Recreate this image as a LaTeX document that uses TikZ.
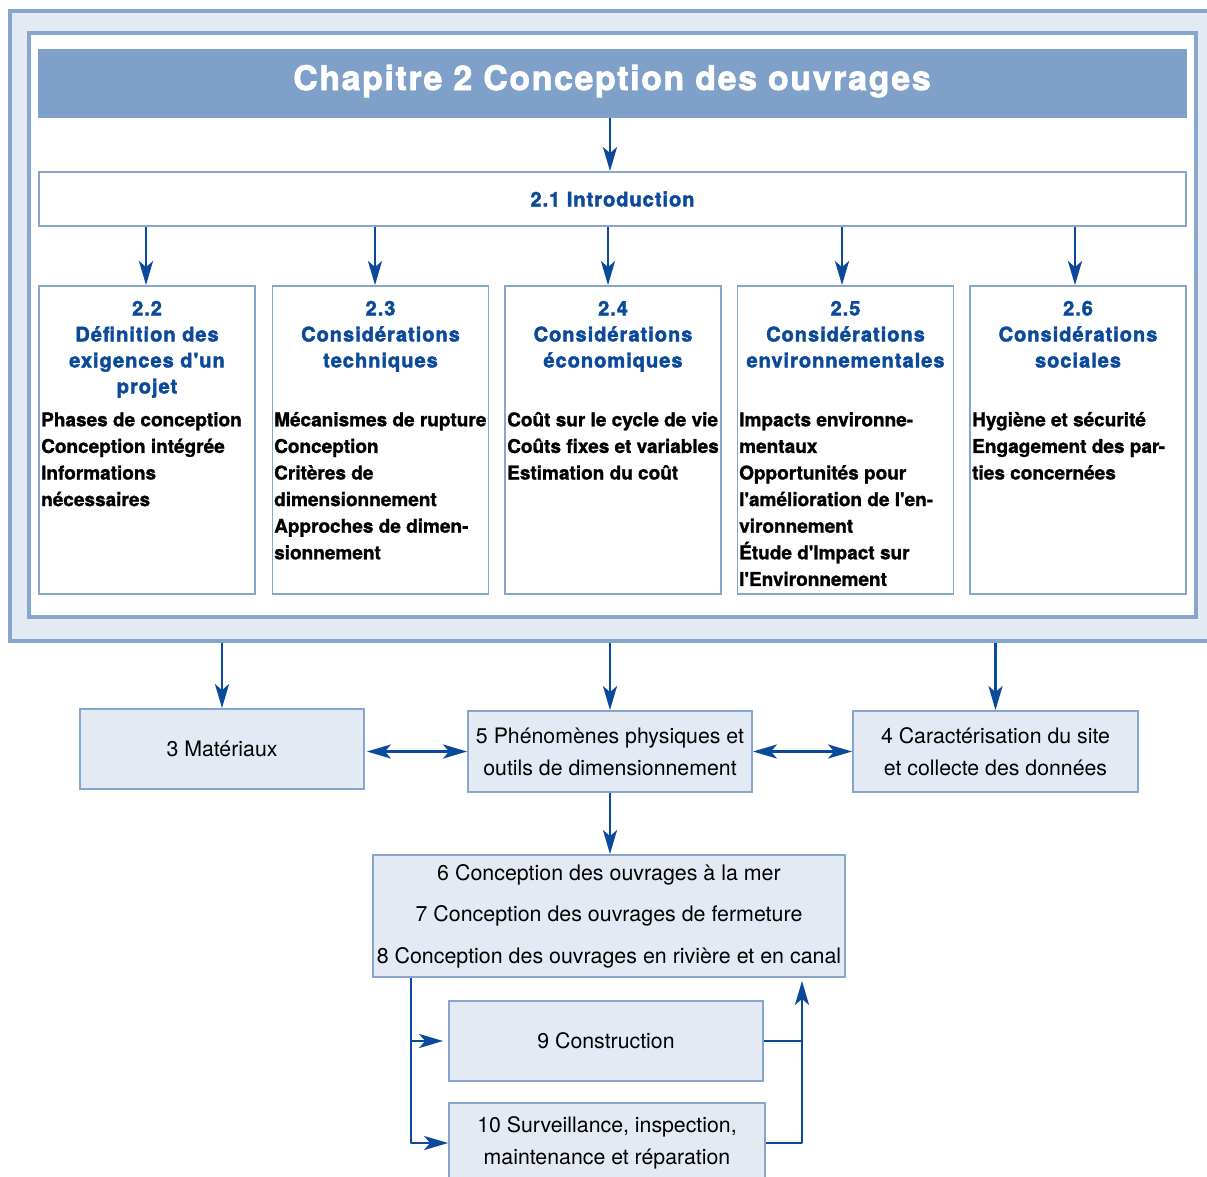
\documentclass[tikz,border=0pt]{standalone}
\usepackage{fontspec}
\setmainfont{TeX Gyre Heros}[Ligatures=TeXOff]
\newfontfamily\trackfont{texgyreheros-bold.otf}[LetterSpace=5,FakeBold=2.2,Ligatures=TeXOff]
\newfontfamily\bodyfont{texgyreheros-bold.otf}[FakeBold=1.2,Ligatures=TeXOff]
\usetikzlibrary{arrows.meta}
\definecolor{frameblue}{HTML}{86A6CE}
\definecolor{headblue}{HTML}{7FA1C9}
\definecolor{paleblue}{HTML}{E4EAF3}
\definecolor{darkblue}{HTML}{0B4A9B}
\tikzset{
  >={Stealth[length=24pt,width=14pt,inset=6pt]},
  secbox/.style={draw=frameblue,line width=1.8pt,fill=white,minimum width=216pt,minimum height=308pt,inner sep=0pt},
  lowbox/.style={draw=frameblue,line width=1.8pt,fill=paleblue,inner sep=0pt,align=center,font=\fontsize{21.3}{32}\selectfont},
  sectitle/.style={anchor=north,inner sep=0pt,align=center,text=darkblue,font=\trackfont\fontsize{20}{26}\selectfont},
  secbody/.style={anchor=north west,inner sep=0pt,align=left,font=\bodyfont\fontsize{19}{26.6}\selectfont},
  conn/.style={draw=darkblue,line width=2.8pt,line join=round},
}
\begin{document}
\begin{tikzpicture}[x=1pt,y=-1pt]
\useasboundingbox (0,0) rectangle (1207,1176);
\clip (0,0) rectangle (1207,1176);
% frames
\node[draw=frameblue,line width=3.5pt,fill=paleblue,minimum width=1205pt,minimum height=630pt,inner sep=0pt] (outer) at (612.5,326) {};
\node[draw=frameblue,line width=4pt,fill=white,minimum width=1167pt,minimum height=584pt,inner sep=0pt] (inner) at (612.5,325) {};
\node[fill=headblue,minimum width=1149pt,minimum height=69pt,inner sep=0pt] (header) at (612.5,83.5) {};
\node[anchor=base,inner sep=0pt,text=white,font=\trackfont\fontsize{33.8}{40}\selectfont] (htext) at (612,90) {Chapitre 2 Conception des ouvrages};
\node[draw=frameblue,line width=1.8pt,fill=white,minimum width=1147pt,minimum height=54pt,inner sep=0pt,text=darkblue,font=\trackfont\fontsize{20}{26}\selectfont] (intro) at (612.5,199) {2.1 Introduction};
% section boxes
\node[secbox] (b22) at (147,440) {};
\node[secbox] (b23) at (380.5,440) {};
\node[secbox] (b24) at (613,440) {};
\node[secbox] (b25) at (845.5,440) {};
\node[secbox] (b26) at (1078,440) {};
\node[sectitle] (t22) at (147,297) {\strut 2.2\\Définition des\\exigences d'un\\projet};
\node[sectitle] (t23) at (380.5,297) {\strut 2.3\\Considérations\\techniques};
\node[sectitle] (t24) at (613,297) {\strut 2.4\\Considérations\\économiques};
\node[sectitle] (t25) at (845.5,297) {\strut 2.5\\Considérations\\environnementales};
\node[sectitle] (t26) at (1078,297) {\strut 2.6\\Considérations\\sociales};
\node[secbody] (c22) at (41,407.5) {\strut Phases de conception\\Conception intégrée\\Informations\\nécessaires};
\node[secbody] (c23) at (274,407.5) {\strut Mécanismes de rupture\\Conception\\Critères de\\dimensionnement\\Approches de dimen-\\sionnement};
\node[secbody] (c24) at (507,407.5) {\strut Coût sur le cycle de vie\\Coûts fixes et variables\\Estimation du coût};
\node[secbody] (c25) at (739,407.5) {\strut Impacts environne-\\mentaux\\Opportunités pour\\l'amélioration de l'en-\\vironnement\\Étude d'Impact sur\\l'Environnement};
\node[secbody] (c26) at (972,407.5) {\strut Hygiène et sécurité\\Engagement des par-\\ties concernées};
% lower boxes
\node[lowbox,minimum width=284pt,minimum height=80pt] (b3) at (222,749) {3 Matériaux};
\node[lowbox,minimum width=284pt,minimum height=81pt] (b5) at (610,751.5) {5 Phénomènes physiques et\\outils de dimensionnement};
\node[lowbox,minimum width=285pt,minimum height=81pt] (b4) at (995.5,751.5) {4 Caractérisation du site\\et collecte des données};
\node[lowbox,minimum width=472pt,minimum height=122pt,font=\fontsize{21.4}{41.5}\selectfont] (b68) at (609,916) {6 Conception des ouvrages à la mer\\7 Conception des ouvrages de fermeture\\8 Conception des ouvrages en rivière et en canal};
\node[lowbox,minimum width=314pt,minimum height=80pt] (b9) at (606,1041) {9 Construction};
\node[lowbox,minimum width=316pt,minimum height=80pt] (b10) at (607,1143) {10 Surveillance, inspection,\\maintenance et réparation};
\coordinate (lx) at (411,1000);
\coordinate (rx) at (802,1000);
% connectors
\draw[conn,->] (header.south -| b5.north) -- (intro.north -| b5.north);
\draw[conn,->] (intro.south -| 146,0) -- (b22.north -| 146,0);
\draw[conn,->] (intro.south -| 375,0) -- (b23.north -| 375,0);
\draw[conn,->] (intro.south -| 608,0) -- (b24.north -| 608,0);
\draw[conn,->] (intro.south -| 842,0) -- (b25.north -| 842,0);
\draw[conn,->] (intro.south -| 1075,0) -- (b26.north -| 1075,0);
\draw[conn,->] (outer.south -| b3.north) -- (b3.north);
\draw[conn,->] (outer.south -| b5.north) -- (b5.north);
\draw[conn,->] (outer.south -| b4.north) -- (b4.north);
\draw[conn,<->,shorten <=2pt] (b5.west -| b3.east) -- (b5.west);
\draw[conn,<->] (b5.east) -- (b4.west);
\draw[conn,->] (b5.south) -- (b5.south |- b68.north);
\draw[conn,->] (b68.south -| lx) -- (lx |- b10.west) -- (b10.west);
\draw[conn,->,shorten >=5pt] (lx |- b9.west) -- (b9.west);
\draw[conn] (b9.east) -- (rx |- b9.east);
\draw[conn,->,shorten >=3pt] (b10.east) -- (rx |- b10.east) -- (rx |- b68.south);
\end{tikzpicture}
\end{document}
